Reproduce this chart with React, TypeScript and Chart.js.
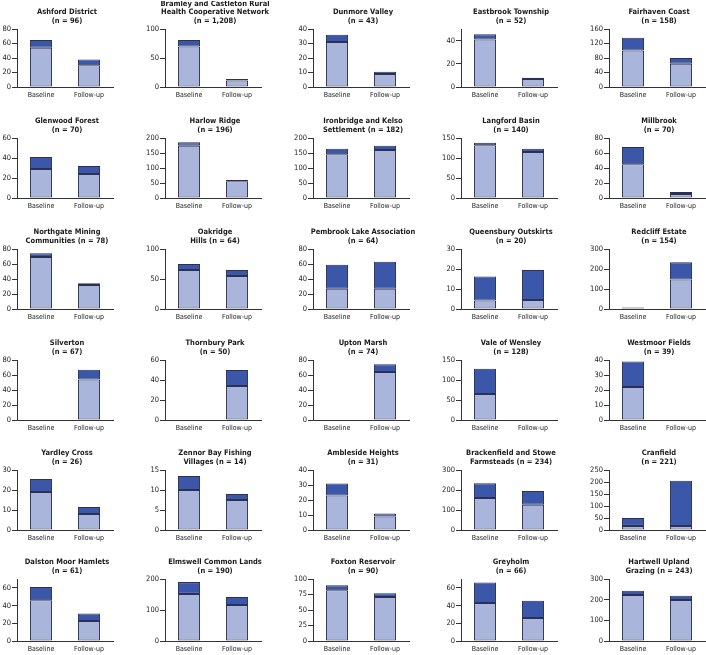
import { useEffect, useRef } from "react";
import { Chart, registerables } from "chart.js";

Chart.register(...registerables);

// Two survey waves shown in every panel
const categories = ["Baseline", "Follow-up"];

// Panel titles, row by row (5 panels per row)
const titles: string[][] = [
  ["Ashford District", "(n = 96)"],
  ["Bramley and Castleton Rural", "Health Cooperative Network", "(n = 1,208)"],
  ["Dunmore Valley", "(n = 43)"],
  ["Eastbrook Township", "(n = 52)"],
  ["Fairhaven Coast", "(n = 158)"],

  ["Glenwood Forest", "(n = 70)"],
  ["Harlow Ridge", "(n = 196)"],
  ["Ironbridge and Kelso", "Settlement (n = 182)"],
  ["Langford Basin", "(n = 140)"],
  ["Millbrook", "(n = 70)"],

  ["Northgate Mining", "Communities (n = 78)"],
  ["Oakridge", "Hills (n = 64)"],
  ["Pembrook Lake Association", "(n = 64)"],
  ["Queensbury Outskirts", "(n = 20)"],
  ["Redcliff Estate", "(n = 154)"],

  ["Silverton", "(n = 67)"],
  ["Thornbury Park", "(n = 50)"],
  ["Upton Marsh", "(n = 74)"],
  ["Vale of Wensley", "(n = 128)"],
  ["Westmoor Fields", "(n = 39)"],

  ["Yardley Cross", "(n = 26)"],
  ["Zennor Bay Fishing", "Villages (n = 14)"],
  ["Ambleside Heights", "(n = 31)"],
  ["Brackenfield and Stowe", "Farmsteads (n = 234)"],
  ["Cranfield", "(n = 221)"],

  ["Dalston Moor Hamlets", "(n = 61)"],
  ["Elmswell Common Lands", "(n = 190)"],
  ["Foxton Reservoir", "(n = 90)"],
  ["Greyholm", "(n = 66)"],
  ["Hartwell Upland", "Grazing (n = 243)"],
];

// Lower (light) segment of each stacked bar: [Baseline, Follow-up]
const lowerValues: (number | null)[][] = [
  [54, 30], [70, 11], [31, 9], [41, 7], [101, 64],
  [29, 24], [174, 56], [146, 160], [132, 115], [45, 5.5],
  [69.5, 32], [65, 55], [27, 27], [4.2, 4.5], [3, 147],
  [null, 54], [null, 34], [null, 64], [65, null], [22, null],
  [19, 8], [10, 7.5], [23, 9], [160, 126], [17, 17],
  [46, 22.5], [152, 116], [82, 71], [43, 26], [222, 198],
];

// Upper (dark) segment of each stacked bar: [Baseline, Follow-up]
const upperValues: (number | null)[][] = [
  [11, 8], [11, 3], [5, 1.5], [4.5, 1], [35, 16],
  [12, 8], [12, 4], [18, 14], [6, 8], [23, 2.5],
  [5, 2.5], [10, 10], [32, 36], [12, 15], [5, 87],
  [null, 13], [null, 16], [null, 10.5], [63, null], [17, null],
  [6.5, 3.5], [3.5, 1.5], [8, 2], [74, 69], [33, 188],
  [15, 8.5], [38, 26], [8, 6], [23, 19.5], [21, 21],
];

// Y-axis upper limit and tick step for each panel
const axisMax: number[] = [
  80, 100, 40, 50, 160,
  60, 200, 200, 150, 80,
  80, 100, 80, 30, 300,
  80, 60, 80, 150, 40,
  30, 15, 40, 300, 250,
  70, 200, 100, 70, 300,
];
const axisStep: number[] = [
  20, 50, 10, 10, 20,
  20, 50, 50, 50, 20,
  20, 50, 20, 10, 50,
  20, 10, 10, 50, 10,
  10, 5, 10, 100, 50,
  10, 100, 25, 10, 100,
];

const LIGHT = "#aab5dc";
const DARK = "#3b57a9";
const EDGE = "#2c3052";
const AXIS = "#333333";
const TEXT = "#1a1a1a";
const FONT = '"DejaVu Sans Condensed", "DejaVu Sans", sans-serif';

// Grid geometry
const COL_PITCH = 148;
const ROW_BASELINES = [87, 198, 309, 420, 530, 641];
const PLOT_HEIGHTS = [58, 60, 60, 60, 60, 62];
const TITLE_SPACE = 28;
const X_AXIS_H = 14;
const PLOT_W = 96;
const PAGE_W = 706;

function Panel({ index }: { index: number }) {
  const ref = useRef<HTMLCanvasElement | null>(null);
  const col = index % 5;
  const row = Math.floor(index / 5);
  const plotH = PLOT_HEIGHTS[row];
  const left = col === 0 ? 0 : COL_PITCH * col - 12;
  const yAxisW = col === 0 ? 17 : 29;
  const width = Math.min(col === 0 ? 136 : 148, PAGE_W - left);
  const height = TITLE_SPACE + plotH + X_AXIS_H;
  const top = ROW_BASELINES[row] - plotH - TITLE_SPACE;
  const rightPad = width - (yAxisW + PLOT_W);

  useEffect(() => {
    if (!ref.current) return;
    const lines = titles[index];
    const titlePlugin = {
      id: "panelTitle",
      afterDraw(chart: any) {
        const { ctx, chartArea } = chart;
        const cx = (chartArea.left + chartArea.right) / 2 + 2;
        ctx.save();
        ctx.fillStyle = TEXT;
        ctx.textAlign = "center";
        ctx.textBaseline = "middle";
        ctx.font = `bold 7.5px ${FONT}`;
        const n = lines.length;
        lines.forEach((line, i) => {
          const y = chartArea.top - 8 - (n - 1 - i) * 8.5;
          ctx.fillText(line, cx, y);
        });
        ctx.restore();
      },
    };
    const barCommon = {
      borderColor: EDGE,
      borderWidth: 1,
      borderSkipped: false as const,
      barPercentage: 0.46,
      categoryPercentage: 1,
    };
    const chart = new Chart(ref.current, {
      type: "bar",
      data: {
        labels: categories,
        datasets: [
          { data: lowerValues[index], backgroundColor: LIGHT, ...barCommon },
          { data: upperValues[index], backgroundColor: DARK, ...barCommon },
        ],
      },
      options: {
        responsive: false,
        animation: false,
        devicePixelRatio: 1,
        layout: { padding: { top: TITLE_SPACE, right: rightPad, left: 0, bottom: 0 } },
        plugins: { legend: { display: false }, tooltip: { enabled: false } },
        scales: {
          x: {
            stacked: true,
            grid: { display: true, drawOnChartArea: false, drawTicks: false },
            border: { display: true, color: AXIS, width: 1 },
            ticks: {
              font: { size: 7, family: FONT },
              color: TEXT,
              padding: 4,
              maxRotation: 0,
              autoSkip: false,
            },
            afterFit: (s: any) => {
              s.height = X_AXIS_H;
            },
          },
          y: {
            stacked: true,
            min: 0,
            max: axisMax[index],
            grid: { drawOnChartArea: false, drawTicks: true, tickLength: 5, color: AXIS },
            border: { display: true, color: AXIS, width: 1 },
            ticks: {
              stepSize: axisStep[index],
              font: { size: 7.5, family: FONT },
              color: TEXT,
              padding: 1,
            },
            afterFit: (s: any) => {
              s.width = yAxisW;
            },
          },
        },
      },
      plugins: [titlePlugin],
    });
    return () => chart.destroy();
  }, [index]);

  return (
    <canvas
      ref={ref}
      width={width}
      height={height}
      style={{ position: "absolute", left, top, width, height, display: "block" }}
    />
  );
}

export default function App() {
  return (
    <div
      style={{
        position: "fixed",
        inset: 0,
        overflow: "hidden",
        background: "#ffffff",
      }}
    >
      {titles.map((_, i) => (
        <Panel key={i} index={i} />
      ))}
    </div>
  );
}
